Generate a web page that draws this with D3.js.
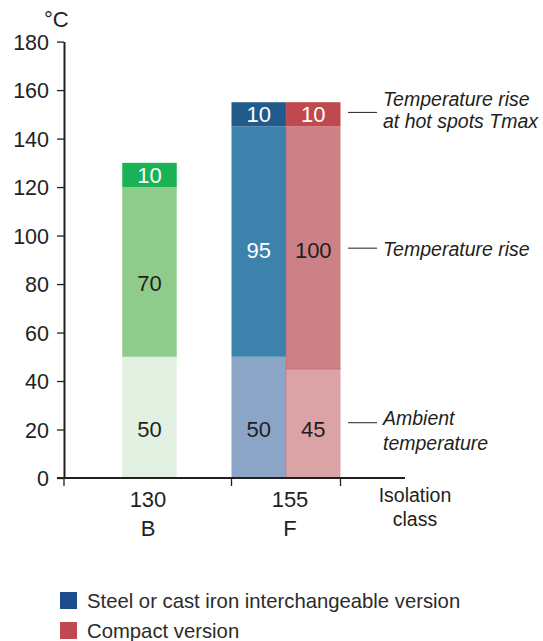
<!DOCTYPE html>
<html><head><meta charset="utf-8">
<script src="https://cdn.jsdelivr.net/npm/d3@7"></script>
<style>
html,body{margin:0;padding:0;background:#fff;}
text{font-family:"Liberation Sans",Arial,sans-serif;}
</style></head>
<body>
<svg id="chart" width="543" height="641"></svg>
<script>
// ---------- data ----------
const classTemps   = ["130", "155"];
const classLetters = ["B", "F"];
const barClass     = ["130", "155", "155"];
const barVersion   = ["single", "steel", "compact"];
const ambient      = [50, 50, 45];
const rise         = [70, 95, 100];
const hotspot      = [10, 10, 10];
const yTicks       = [0, 20, 40, 60, 80, 100, 120, 140, 160, 180];
const annotations  = [
  {lines: ["Temperature rise", "at hot spots Tmax"], at: 150.8},
  {lines: ["Temperature rise"], at: 94.8},
  {lines: ["Ambient", "temperature"], at: 22.8}
];
const legendLabels = ["Steel or cast iron interchangeable version", "Compact version"];

// ---------- styles ----------
const layerColors = [
  ["#e2f0e1", "#8fcc8b", "#1bb157"],
  ["#8aa5c5", "#3d82ad", "#215b8b"],
  ["#dca3a6", "#cb8186", "#c0484f"]
];
const layerTextColors = [
  ["#231f20", "#231f20", "#ffffff"],
  ["#231f20", "#ffffff", "#ffffff"],
  ["#231f20", "#231f20", "#ffffff"]
];
const legendColors = ["#1c4c8d", "#c0484f"];
const ink = "#231f20";
const annotationBaselines = [[-6, 16], [7.5], [2.5, 27]];

const svg = d3.select("#chart");

const y = d3.scaleLinear().domain([0, 180]).range([478, 41.6]);
const xg = d3.scaleBand().domain(classTemps).range([95, 340.5]).paddingInner(0.2015).paddingOuter(0);
const xv = d3.scaleBand().domain(["steel", "compact"]).range([0, xg.bandwidth()]);

function barX(i) {
  if (barVersion[i] === "single") return xg(barClass[i]) + xg.bandwidth() / 4;
  return xg(barClass[i]) + xv(barVersion[i]);
}
const barW = xv.bandwidth();

// stacked layers
const bars = barClass.map((c, i) => {
  const v = [ambient[i], rise[i], hotspot[i]];
  let acc = 0;
  return v.map((val, k) => { const s = {i, k, y0: acc, y1: acc + val, val}; acc += val; return s; });
}).flat();

svg.append("g").selectAll("rect").data(bars).join("rect")
  .attr("x", d => barX(d.i))
  .attr("width", barW)
  .attr("y", d => y(d.y1))
  .attr("height", d => y(d.y0) - y(d.y1))
  .attr("fill", d => layerColors[d.i][d.k]);

// boundary lines in red bar
svg.append("line")
  .attr("x1", barX(2)).attr("x2", barX(2) + barW)
  .attr("y1", y(ambient[2])).attr("y2", y(ambient[2]))
  .attr("stroke", "#c76c75").attr("stroke-width", 1);
svg.append("line")
  .attr("x1", barX(2)).attr("x2", barX(2))
  .attr("y1", y(ambient[2] + rise[2] + hotspot[2])).attr("y2", y(0))
  .attr("stroke", "#b86a75").attr("stroke-width", 0.8).attr("opacity", 0.6);

// value labels
const bottomLabelAt = 20;
const midLabelAt = [80.5, 94, 94];
svg.append("g").selectAll("text").data(bars).join("text")
  .attr("x", d => barX(d.i) + barW / 2)
  .attr("y", d => d.k === 0 ? y(bottomLabelAt) : d.k === 1 ? y(midLabelAt[d.i]) : y((d.y0 + d.y1) / 2))
  .attr("dy", "0.36em")
  .attr("text-anchor", "middle")
  .attr("font-size", 22)
  .attr("fill", d => layerTextColors[d.i][d.k])
  .text(d => d.val);

// y axis
const yAxis = svg.append("g").attr("transform", "translate(64,0)")
  .call(d3.axisLeft(y).tickValues(yTicks).tickSize(7).tickPadding(8).tickSizeOuter(0));
yAxis.select(".domain").attr("stroke", ink).attr("stroke-width", 2);
yAxis.selectAll(".tick line").attr("stroke", ink).attr("stroke-width", 1.3);
yAxis.selectAll(".tick text").attr("font-size", 21.5).attr("fill", ink)
  .attr("font-family", "Liberation Sans, Arial, sans-serif").attr("dy", "0.36em");

svg.append("text").attr("x", 44).attr("y", 27).attr("font-size", 22).attr("fill", ink).text("°C");

// x axis line
svg.append("line").attr("x1", 57).attr("x2", 405).attr("y1", y(0)).attr("y2", y(0))
  .attr("stroke", ink).attr("stroke-width", 2);
const xTickPos = [64, xg("155"), xg("155") + xg.bandwidth()];
svg.append("g").selectAll("line").data(xTickPos).join("line")
  .attr("x1", d => d).attr("x2", d => d).attr("y1", y(0)).attr("y2", y(0) + 8)
  .attr("stroke", ink).attr("stroke-width", 1.3);

// category labels
const catOffset = [-1.5, 4];
classTemps.forEach((c, i) => {
  const cx = xg(c) + xg.bandwidth() / 2 + catOffset[i];
  svg.append("text").attr("x", cx).attr("y", 507).attr("text-anchor", "middle")
    .attr("font-size", 22).attr("fill", ink).text(c);
  svg.append("text").attr("x", cx).attr("y", 536).attr("text-anchor", "middle")
    .attr("font-size", 22).attr("fill", ink).text(classLetters[i]);
});
svg.append("text").attr("x", 415).attr("y", 502).attr("text-anchor", "middle")
  .attr("font-size", 19.5).attr("fill", ink).text("Isolation");
svg.append("text").attr("x", 415).attr("y", 526).attr("text-anchor", "middle")
  .attr("font-size", 19.5).attr("fill", ink).text("class");

// annotations
annotations.forEach((a, ai) => {
  const ly = y(a.at);
  svg.append("line").attr("x1", 348).attr("x2", 377).attr("y1", ly).attr("y2", ly)
    .attr("stroke", ink).attr("stroke-width", 1);
  const t = svg.append("text").attr("x", 383).attr("font-size", 19.5)
    .attr("font-style", "italic").attr("fill", ink);
  a.lines.forEach((ln, j) => {
    t.append("tspan").attr("x", 383).attr("y", ly + annotationBaselines[ai][j]).text(ln);
  });
});

// legend
legendLabels.forEach((l, i) => {
  const ly = 592 + i * 30;
  svg.append("rect").attr("x", 60).attr("y", ly).attr("width", 17).attr("height", 17)
    .attr("fill", legendColors[i]);
  svg.append("text").attr("x", 87).attr("y", ly + 16).attr("font-size", 20.3)
    .attr("fill", "#2b2b2b").text(l);
});
</script>
</body></html>
